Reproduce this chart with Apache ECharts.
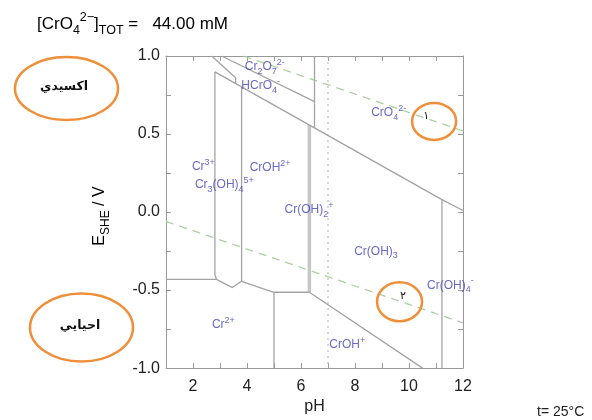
<!DOCTYPE html>
<html>
<head>
<meta charset="utf-8">
<script src="https://cdn.jsdelivr.net/npm/echarts@6/dist/echarts.min.js"></script>
<style>
html,body{margin:0;padding:0;background:#fff;}
#c{width:592px;height:420px;}
</style>
</head>
<body>
<div id="c"></div>
<script>
// ---- axis ticks / labels ----
const xLabels = [2, 4, 6, 8, 10, 12];
const yLabels = [-1.0, -0.5, 0.0, 0.5, 1.0];

// ---- boundary lines (pH, E/V) ----
const bSteep      = [[2.69, 1.0], [3.58, 0.86]];
const bShort      = [[3.58, 0.86], [3.58, 0.82]];
const bDichromate = [[3.06, 1.0], [6.50, 0.708]];
const bPH65       = [[6.50, 1.0], [6.50, 0.54]];
const bCr6        = [[2.81, 0.898], [11.22, 0.080], [12.0, 0.01]];
const bCr3Left    = [[2.81, 0.898], [2.81, -0.40], [2.87, -0.431], [3.46, -0.484], [3.79, -0.444]];
const bCr2Top     = [[1.0, -0.431], [2.87, -0.431]];
const bCrOH2      = [[3.80, 0.802], [3.80, -0.444]];
const bCr2Right   = [[3.79, -0.444], [5.0, -0.514], [6.31, -0.514]];
const bPH5        = [[5.0, -0.514], [5.0, -1.0]];
const bThick      = [[6.31, 0.558], [6.31, -0.514]];
const bCrOH       = [[6.31, -0.514], [10.5, -1.0]];
const bPH11       = [[11.22, 0.080], [11.22, -1.0]];
const neutralLine = [[7, 1.0], [7, -1.0]];
const waterUpper  = [[3.87, 1.0], [12, 0.52]];
const waterLower  = [[1, -0.06], [12, -0.71]];

// ---- species labels: [pH (left edge), E (centre), text] ----
const species = [
  [3.92, 0.930, '{m|Cr}{s|2}{m|O}{s|7}{p|2-}'],
  [3.79, 0.808, '{m|HCrO}{s|4}{p|-}'],
  [8.60, 0.636, '{m|CrO}{s|4}{p|2-}'],
  [1.96, 0.291, '{m|Cr}{p|3+}'],
  [4.10, 0.284, '{m|CrOH}{p|2+}'],
  [2.07, 0.176, '{m|Cr}{s|3}{m|(OH)}{s|4}{p|5+}'],
  [5.39, 0.016, '{m|Cr(OH)}{s|2}{p|+}'],
  [7.97, -0.252, '{m|Cr(OH)}{s|3}'],
  [10.67, -0.470, '{m|Cr(OH)}{s|4}{p|-}'],
  [2.70, -0.725, '{m|Cr}{p|2+}'],
  [7.05, -0.853, '{m|CrOH}{p|+}']
];

// ---- annotation marks (orange circles on the chart) ----
const marks = [
  {pH: 10.93, E: 0.581, rx: 22, ry: 18.5, text: '١', dx: -8, dy: -5},
  {pH: 9.65, E: -0.575, rx: 22.5, ry: 19.5, text: '٢', dx: 3.5, dy: -5.5}
];

const chart = echarts.init(document.getElementById('c'));
const GREY = '#a3a3a3';
const BLUE = '#4444b8';
const ORANGE = '#ef8f3a';
const FONT = 'Liberation Sans, Arial, sans-serif';

function lineSeries(data, style) {
  return {
    type: 'line', data: data, symbol: 'none', silent: true, animation: false,
    lineStyle: Object.assign({color: GREY, width: 1.3}, style || {}),
    z: 2
  };
}

const richSpecies = {
  m: {fontSize: 12, color: BLUE, fontFamily: FONT, lineHeight: 18},
  s: {fontSize: 9, color: BLUE, fontFamily: FONT, lineHeight: 9, verticalAlign: 'bottom'},
  p: {fontSize: 9, color: BLUE, fontFamily: FONT, lineHeight: 9, verticalAlign: 'top'}
};

const axisCommon = {
  type: 'value',
  axisLine: {show: true, onZero: false, lineStyle: {color: '#999', width: 1}},
  axisTick: {show: true, inside: true, length: 5, lineStyle: {color: '#999'}},
  splitLine: {show: false}
};

const option = {
  animation: false,
  backgroundColor: '#fff',
  grid: {left: 166, right: 129, top: 56, bottom: 51},
  xAxis: [
    Object.assign({}, axisCommon, {
      min: 1, max: 12, interval: 1, position: 'bottom',
      axisLabel: {
        fontSize: 16, color: '#222', fontFamily: FONT, margin: 10,
        formatter: v => xLabels.indexOf(v) >= 0 ? String(v) : ''
      },
      name: 'pH', nameLocation: 'middle', nameGap: 22,
      nameTextStyle: {fontSize: 16, color: '#222', fontFamily: FONT}
    }),
    Object.assign({}, axisCommon, {
      min: 1, max: 12, interval: 1, position: 'top', axisLabel: {show: false}
    })
  ],
  yAxis: [
    Object.assign({}, axisCommon, {
      min: -1, max: 1, interval: 0.25, position: 'left',
      axisLabel: {
        fontSize: 16, color: '#222', fontFamily: FONT, margin: 6,
        formatter: v => {
          const hit = yLabels.find(t => Math.abs(t - v) < 1e-9);
          return hit === undefined ? '' : hit.toFixed(1);
        }
      }
    }),
    Object.assign({}, axisCommon, {
      min: -1, max: 1, interval: 0.25, position: 'right', axisLabel: {show: false}
    })
  ],
  series: [
    lineSeries(neutralLine, {color: '#bdbdbd', width: 1.2, type: [2, 4]}),
    lineSeries(waterUpper, {color: '#a9d2a0', width: 1.3, type: [8, 6]}),
    lineSeries(waterLower, {color: '#a9d2a0', width: 1.3, type: [8, 6]}),
    lineSeries(bThick, {color: '#c6c6c6', width: 3.5}),
    lineSeries(bSteep),
    lineSeries(bShort),
    lineSeries(bDichromate),
    lineSeries(bPH65),
    lineSeries(bCr6),
    lineSeries(bCr3Left),
    lineSeries(bCr2Top),
    lineSeries(bCrOH2),
    lineSeries(bCr2Right),
    lineSeries(bPH5),
    lineSeries(bCrOH),
    lineSeries(bPH11),
    {
      type: 'scatter', data: species, symbolSize: 0, silent: true, z: 5,
      label: {
        show: true, position: 'right', distance: 0,
        formatter: p => p.data[2],
        rich: richSpecies
      }
    }
  ],
  graphic: []
};

chart.setOption(option);

// annotations
const title = {
  type: 'text', left: 37, top: 11,
  style: {
    text: '{m|[CrO}{s|4}{p|2−}{m|]}{s|TOT}{m| =   44.00 mM}',
    rich: {
      m: {fontSize: 17, fontFamily: FONT, color: '#222', lineHeight: 26},
      s: {fontSize: 12.5, fontFamily: FONT, color: '#222', lineHeight: 12, verticalAlign: 'bottom'},
      p: {fontSize: 12.5, fontFamily: FONT, color: '#222', lineHeight: 13, verticalAlign: 'top'}
    }
  }
};
const yName = {
  type: 'text', x: 100, y: 216, rotation: Math.PI / 2,
  style: {
    text: '{m|E}{s|SHE}{m| / V}', align: 'center', verticalAlign: 'middle',
    rich: {
      m: {fontSize: 16, fontFamily: FONT, color: '#222', lineHeight: 24},
      s: {fontSize: 12, fontFamily: FONT, color: '#222', lineHeight: 12, verticalAlign: 'bottom'}
    }
  }
};
const tempText = {
  type: 'text', x: 537, y: 412,
  style: {text: 't= 25°C', fontSize: 14, fontFamily: FONT, fill: '#222', verticalAlign: 'middle'}
};
const g = [title, yName, tempText,
  {type: 'ellipse', shape: {cx: 66.5, cy: 88.5, rx: 51.5, ry: 31.5},
   style: {fill: 'none', stroke: ORANGE, lineWidth: 2.5}},
  {type: 'text', x: 64, y: 87, style: {text: 'اكسيدي', fontSize: 12.5, fontWeight: 'bold', fontFamily: 'DejaVu Sans', fill: '#111', align: 'center', verticalAlign: 'middle'}},
  {type: 'ellipse', shape: {cx: 81.5, cy: 327.5, rx: 51.5, ry: 34},
   style: {fill: 'none', stroke: ORANGE, lineWidth: 2.5}},
  {type: 'text', x: 80, y: 326, style: {text: 'احيايي', fontSize: 12.5, fontWeight: 'bold', fontFamily: 'DejaVu Sans', fill: '#111', align: 'center', verticalAlign: 'middle'}}
];
marks.forEach(m => {
  const p = chart.convertToPixel({gridIndex: 0}, [m.pH, m.E]);
  g.push({type: 'ellipse', shape: {cx: p[0], cy: p[1], rx: m.rx, ry: m.ry}, z: 10,
          style: {fill: 'none', stroke: ORANGE, lineWidth: 2.5}});
  g.push({type: 'text', x: p[0] + m.dx, y: p[1] + m.dy, z: 10,
          style: {text: m.text, fontSize: 11, fontFamily: 'DejaVu Sans', fill: '#111', align: 'center', verticalAlign: 'middle'}});
});
chart.setOption({graphic: g});
</script>
</body>
</html>
